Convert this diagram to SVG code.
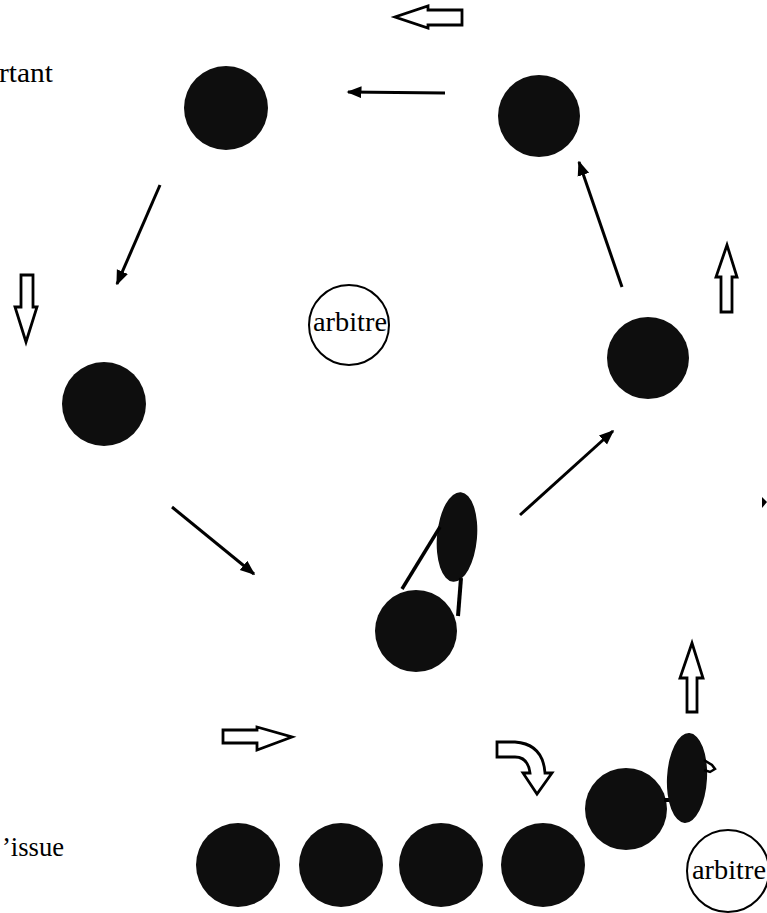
<svg xmlns="http://www.w3.org/2000/svg" width="767" height="913" viewBox="0 0 767 913">
<style>
.ball{fill:#0e0e0e}
.ref{fill:#fff;stroke:#000;stroke-width:2}
.lbl{font-family:"Liberation Serif","Times New Roman",serif;fill:#000}
.conn{stroke:#000;stroke-width:3;fill:none;marker-end:url(#ah)}
.hollow{fill:#fff;stroke:#000;stroke-width:2.8;stroke-linejoin:miter}
.link{stroke:#000;fill:none}
</style>
<defs>
<marker id="ah" viewBox="0 0 10 10" refX="9" refY="5" markerWidth="5" markerHeight="5" orient="auto" markerUnits="strokeWidth">
<path d="M0,1 L10,5 L0,9 Z" fill="#000"/>
</marker>
</defs>
<rect width="767" height="913" fill="#fff"/>
<text class="lbl" x="53" y="82" font-size="27" text-anchor="end" textLength="54" lengthAdjust="spacingAndGlyphs">rtant</text>
<text class="lbl" x="64" y="856" font-size="27" text-anchor="end" textLength="62" lengthAdjust="spacingAndGlyphs">’issue</text>
<g id="connectors">
<line class="conn" x1="445" y1="93" x2="348" y2="92"/>
<line class="conn" x1="160" y1="185" x2="117" y2="284"/>
<line class="conn" x1="172" y1="507" x2="254" y2="574"/>
<line class="conn" x1="520" y1="515" x2="613" y2="431"/>
<line class="conn" x1="622" y1="287" x2="579" y2="162"/>
</g>
<g id="n-top-left"><circle class="ball" cx="226" cy="108" r="42"/></g>
<g id="n-top-right"><circle class="ball" cx="539" cy="116" r="41"/></g>
<g id="n-left"><circle class="ball" cx="104" cy="404" r="42"/></g>
<g id="n-right"><circle class="ball" cx="648" cy="358" r="41"/></g>
<g id="n-arbitre-center"><circle class="ref" cx="349" cy="325" r="40"/><text class="lbl" x="350" y="331" font-size="27" text-anchor="middle" textLength="74" lengthAdjust="spacingAndGlyphs">arbitre</text></g>
<g id="n-player-center">
<ellipse class="ball" cx="457" cy="537" rx="20" ry="45" transform="rotate(5 457 537)"/>
<line class="link" x1="440" y1="527" x2="402" y2="589" stroke-width="3.5"/>
<line class="link" x1="461" y1="578" x2="458" y2="616" stroke-width="4"/>
<circle class="ball" cx="416" cy="631" r="41"/>
</g>
<g id="n-row1"><circle class="ball" cx="238" cy="865" r="42"/></g>
<g id="n-row2"><circle class="ball" cx="341" cy="865" r="42"/></g>
<g id="n-row3"><circle class="ball" cx="441" cy="865" r="42"/></g>
<g id="n-row4"><circle class="ball" cx="543" cy="865" r="42"/></g>
<g id="n-player-bottom">
<circle class="ball" cx="626" cy="809" r="41"/>
<line class="link" x1="664" y1="800" x2="670" y2="800" stroke-width="4"/>
<ellipse class="ball" cx="687" cy="778" rx="20" ry="45" transform="rotate(3 687 778)"/>
<path class="link" d="M704,760 L712,765 L715,769 L710,772 L704,770" stroke-width="2.5"/>
</g>
<g id="n-arbitre-bottom"><circle class="ref" cx="728" cy="871" r="41"/><text class="lbl" x="729" y="879" font-size="27" text-anchor="middle" textLength="74" lengthAdjust="spacingAndGlyphs">arbitre</text></g>
<g id="hollow-arrows">
<path class="hollow" d="M462,10 L428,10 L428,6 L395,17 L428,28 L428,25 L462,25 Z"/>
<path class="hollow" d="M21,275 L33,275 L33,307 L37,307 L26,342 L15,307 L21,307 Z"/>
<path class="hollow" d="M721,312 L732,312 L732,277 L737,277 L727,245 L716,277 L721,277 Z"/>
<path class="hollow" d="M687,712 L697,712 L697,678 L703,678 L692,643 L680,678 L687,678 Z"/>
<path class="hollow" d="M223,730 L257,730 L257,727 L292,737 L257,750 L257,743 L223,743 Z"/>
<path class="hollow" d="M497,742 L515,742 Q543,744 545,773 L552,773 L537,794 L523,773 L530,773 Q528,757 515,757 L497,757 Z"/>
<path d="M762,497 L767,502 L762,508 Z" fill="#000"/>
</g>
</svg>
